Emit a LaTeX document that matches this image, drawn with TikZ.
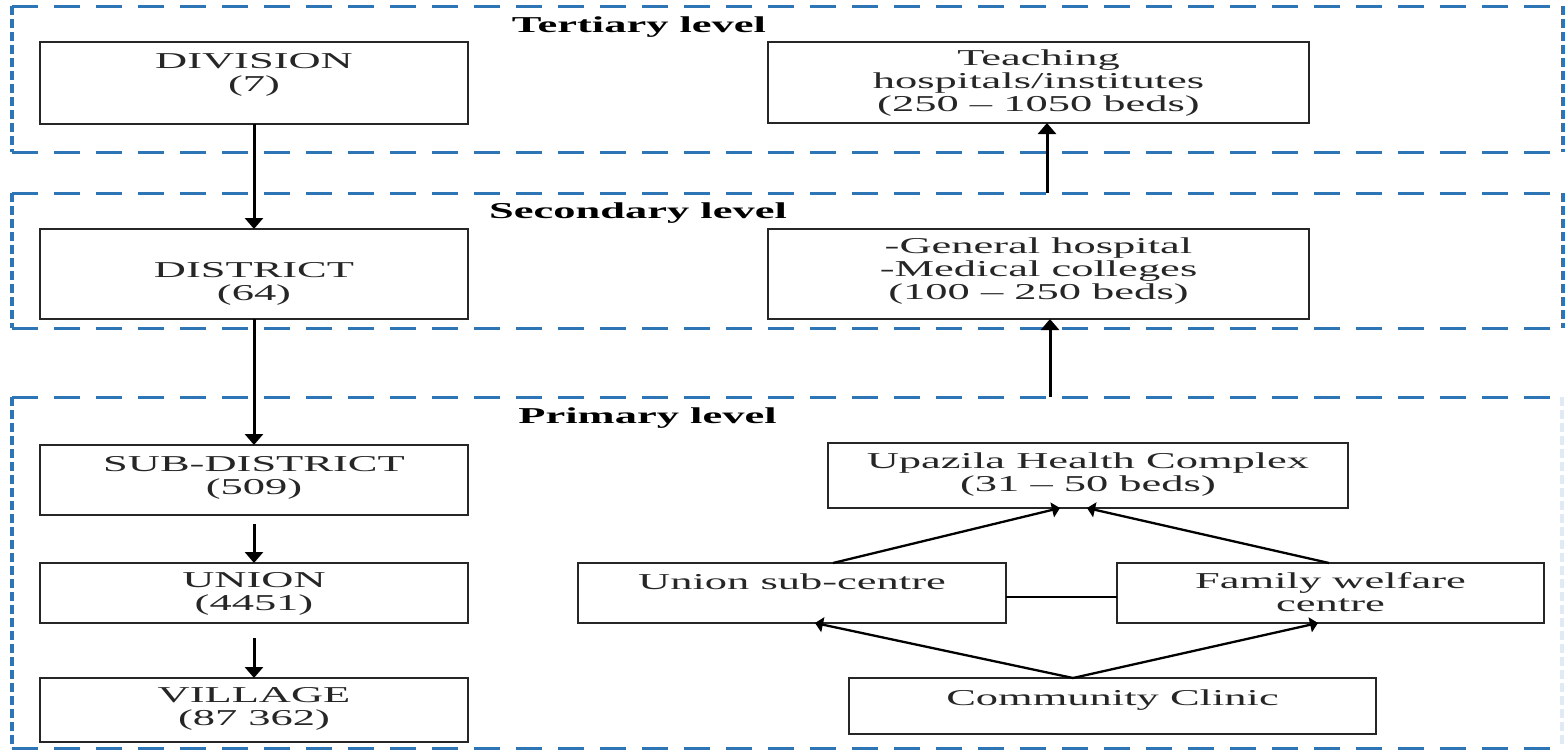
\documentclass[tikz,border=0pt]{standalone}
\usepackage{fontspec}
\setmainfont{Liberation Serif}
\usepackage{graphicx}
\usetikzlibrary{arrows.meta}
\definecolor{lvlblue}{RGB}{46,117,182}
\newcommand{\wtxt}[1]{\scalebox{1.96}[1]{\begin{tabular}{@{}c@{}}#1\end{tabular}}}
\newcommand{\wlbl}[1]{\scalebox{1.96}[1]{#1}}
\begin{document}
\begin{tikzpicture}[x=1pt,y=-1pt,
  box/.style={draw=black!85, line width=2.8pt, inner sep=0pt, outer sep=0pt},
  txt/.style={font=\fontsize{22.7}{23}\selectfont, inner sep=0pt, text=black!85},
  lbl/.style={font=\fontsize{22.7}{23}\selectfont\bfseries, inner sep=0pt, anchor=base},
  lvl/.style={inner sep=0pt, outer sep=0pt},
  hdash/.style={draw=lvlblue, line width=3pt, dash pattern=on 26pt off 16pt},
  vdash/.style={draw=lvlblue, line width=3.2pt, dash pattern=on 9pt off 4pt},
  arr/.style={line width=3pt, -{Triangle[length=11pt,width=18pt]}},
  sarr/.style={line width=2.3pt, -{Triangle[length=8pt,width=15pt]}},
  link/.style={line width=2.3pt}]
\fill[white] (0,0) rectangle (1566,750);
\useasboundingbox (0,0) rectangle (1566,750);

% level containers
\node[lvl, minimum width=1551pt, minimum height=146pt] (tbox) at (787.5,79) {};
\node[lvl, minimum width=1551pt, minimum height=135pt] (sbox) at (787.5,260.5) {};
\node[lvl, minimum width=1550pt, minimum height=351pt] (pbox) at (787,572.5) {};
\foreach \b in {tbox,sbox} {
  \draw[hdash] (\b.north west) -- (\b.north east);
  \draw[hdash] (\b.south west) -- (\b.south east);
  \draw[vdash] (\b.north west) -- (\b.south west);
  \draw[vdash] (\b.north east) -- (\b.south east);
}
\draw[hdash] (pbox.north west) -- (pbox.north east);
\draw[hdash] (pbox.south west) -- (pbox.south east);
\draw[vdash] (pbox.north west) -- (pbox.south west);
\draw[vdash, draw=lvlblue!15] (pbox.north east) -- (pbox.south east);

% level labels
\node[lbl] (tl) at (639,32) {\wlbl{Tertiary level}};
\node[lbl] (sl) at (638,218) {\wlbl{Secondary level}};
\node[lbl] (pl) at (647.5,423) {\wlbl{Primary level}};

% left column
\node[box, minimum width=428pt, minimum height=82pt] (div) at (254,83) {};
\node[box, minimum width=428pt, minimum height=90pt] (dist) at (254,274) {};
\node[box, minimum width=428pt, minimum height=70pt] (sub) at (254,480) {};
\node[box, minimum width=428pt, minimum height=60pt] (uni) at (254,593) {};
\node[box, minimum width=428pt, minimum height=64pt] (vil) at (254,710) {};
\node[txt] (divt) at (254,75) {\wtxt{DIVISION\\(7)}};
\node[txt] (distt) at (254,284) {\wtxt{DISTRICT\\(64)}};
\node[txt] (subt) at (254,478) {\wtxt{SUB-DISTRICT\\(509)}};
\node[txt] (unit) at (254,594) {\wtxt{UNION\\(4451)}};
\node[txt] (vilt) at (254,709) {\wtxt{VILLAGE\\(87 362)}};

\draw[arr] (div.south) -- (dist.north);
\draw[arr] (dist.south) -- (sub.north);
\draw[arr] ([yshift=-9pt]sub.south) -- (uni.north);
\draw[arr] ([yshift=-15pt]uni.south) -- (vil.north);

% right column
\node[box, minimum width=541pt, minimum height=81pt] (teach) at (1038.5,82.5) {};
\node[box, minimum width=541pt, minimum height=90pt] (gen) at (1038.5,274) {};
\node[txt] (teacht) at (1038.5,84) {\wtxt{Teaching\\hospitals/institutes\\(250 -- 1050 beds)}};
\node[txt] (gent) at (1038.5,272) {\wtxt{-General hospital\\-Medical colleges\\(100 -- 250 beds)}};
\coordinate (ta) at ([xshift=8.5pt]teach.south);
\coordinate (ga) at ([xshift=11.5pt]gen.south);
\draw[arr] (ta |- sbox.north) -- (ta);
\draw[arr] (ga |- pbox.north) -- (ga);

% primary network
\node[box, minimum width=520pt, minimum height=65pt] (upa) at (1088,475.5) {};
\node[box, minimum width=428pt, minimum height=60pt] (usc) at (792,593) {};
\node[box, minimum width=427pt, minimum height=60pt] (fwc) at (1330.5,593) {};
\node[box, minimum width=527pt, minimum height=56pt] (cc) at (1112.5,706) {};
\node[txt] (upat) at (1088,475) {\wtxt{Upazila Health Complex\\(31 -- 50 beds)}};
\node[txt] (usct) at (792,585) {\wtxt{Union sub-centre}};
\node[txt] (fwct) at (1330.5,595) {\wtxt{Family welfare\\centre}};
\node[txt] (cct) at (1112.5,700.5) {\wtxt{Community Clinic}};

\draw[sarr] ([xshift=41pt]usc.north) -- ([xshift=-28pt]upa.south);
\draw[sarr] ([xshift=-1.5pt]fwc.north) -- ([xshift=-1pt]upa.south);
\draw[sarr] ([xshift=-39.5pt]cc.north) -- ([xshift=23pt]usc.south);
\draw[sarr] ([xshift=-39.5pt]cc.north) -- ([xshift=-12.5pt]fwc.south);
\draw[link] ([yshift=-4pt]usc.east) -- ([yshift=-4pt]fwc.west);
\end{tikzpicture}
\end{document}
